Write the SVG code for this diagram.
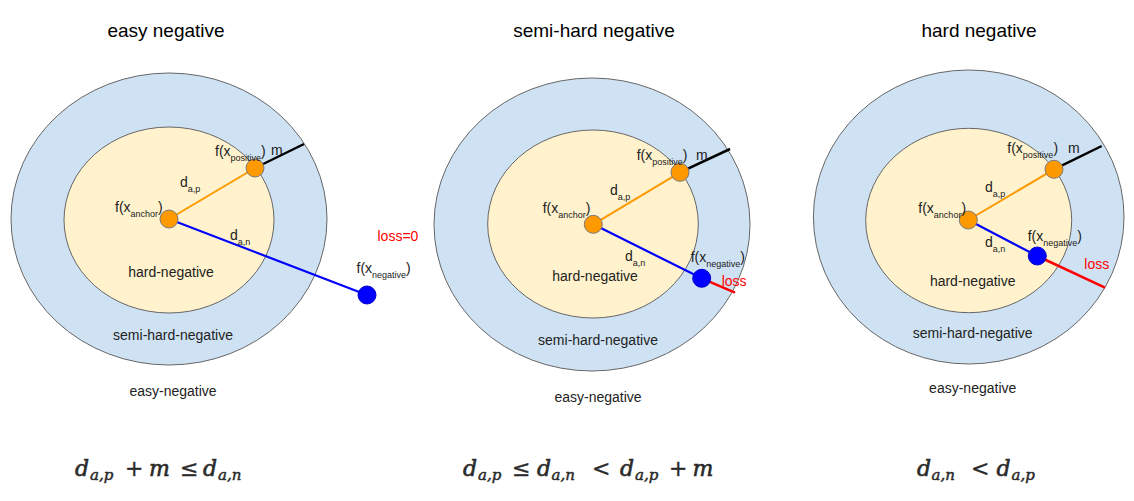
<svg xmlns="http://www.w3.org/2000/svg" width="1134" height="501" viewBox="0 0 1134 501">
<style>
.bg{fill:#ffffff}
.outer{fill:#cfe2f3;stroke:#666666;stroke-width:1}
.inner{fill:#fff2cc;stroke:#666666;stroke-width:1}
.ap{stroke:#ff9900;stroke-width:2;fill:none}
.an{stroke:#0000ff;stroke-width:2.2;fill:none}
.mline{stroke:#000000;stroke-width:2.5;fill:none}
.loss{stroke:#ff0000;stroke-width:2.5;fill:none}
.onode{fill:#ff9900;stroke:#7a7a7a;stroke-width:1}
.bnode{fill:#0000ff;stroke:#0000cc;stroke-width:1}
.title{font-family:"Liberation Sans",Arial,sans-serif;font-size:19px;fill:#000000;text-anchor:middle}
.lbl{font-family:"Liberation Sans",Arial,sans-serif;font-size:14px;fill:#222222}
.reg{font-family:"Liberation Sans",Arial,sans-serif;font-size:14px;fill:#222222;text-anchor:middle}
.red{font-family:"Liberation Sans",Arial,sans-serif;font-size:14px;fill:#ff0000}
.sub{font-size:9px}
.mi{font-family:"DejaVu Serif","Liberation Serif",serif;font-style:italic;font-size:22px;fill:#2a2a2a;stroke:#2a2a2a;stroke-width:0.6}
.ms{font-family:"DejaVu Serif","Liberation Serif",serif;font-style:italic;font-size:15px;fill:#2a2a2a;stroke:#2a2a2a;stroke-width:0.5}
.mo{font-family:"DejaVu Serif","Liberation Serif",serif;font-size:22px;fill:#2a2a2a;stroke:#2a2a2a;stroke-width:0.4}
</style>
<rect class="bg" x="0" y="0" width="1134" height="501"/>

<!-- Panel 1: easy negative -->
<g id="panel-easy">
  <text class="title" x="166" y="37">easy negative</text>
  <ellipse id="easy-outer" class="outer" cx="169" cy="219" rx="158" ry="146"/>
  <ellipse id="easy-inner" class="inner" cx="169" cy="220" rx="105" ry="93"/>
  <text class="reg" x="171" y="277">hard-negative</text>
  <text class="reg" x="173" y="340">semi-hard-negative</text>
  <text class="reg" x="173" y="396">easy-negative</text>
</g>
<g id="connectors-easy">
  <line class="mline" x1="255" y1="168" x2="304" y2="144"/>
  <line class="ap" x1="169" y1="219" x2="255" y2="168"/>
  <line class="an" x1="169" y1="219" x2="367" y2="295"/>
</g>
<g id="easy-anchor"><circle class="onode" cx="169" cy="219" r="9"/>
  <text class="lbl" x="115" y="212">f(x<tspan class="sub" dy="5">anchor</tspan><tspan dy="-5">)</tspan></text></g>
<g id="easy-positive"><circle class="onode" cx="255" cy="168" r="9"/>
  <text class="lbl" x="215" y="156">f(x<tspan class="sub" dy="5">positive</tspan><tspan dy="-5">)</tspan></text>
  <text class="lbl" x="271" y="155">m</text></g>
<g id="easy-negative-node"><circle class="bnode" cx="367" cy="295" r="9"/>
  <text class="lbl" x="356.5" y="273">f(x<tspan class="sub" dy="5">negative</tspan><tspan dy="-5">)</tspan></text>
  <text class="red" x="377.5" y="241">loss=0</text></g>
<g id="easy-dist">
  <text class="lbl" x="180" y="187">d<tspan class="sub" dy="5">a,p</tspan></text>
  <text class="lbl" x="230" y="240">d<tspan class="sub" dy="5">a,n</tspan></text>
</g>

<!-- Panel 2: semi-hard negative -->
<g id="panel-semi">
  <text class="title" x="594" y="37">semi-hard negative</text>
  <ellipse id="semi-outer" class="outer" cx="592" cy="224.5" rx="158" ry="146.5"/>
  <ellipse id="semi-inner" class="inner" cx="593" cy="224" rx="105.3" ry="94"/>
  <text class="reg" x="595" y="281">hard-negative</text>
  <text class="reg" x="598" y="345">semi-hard-negative</text>
  <text class="reg" x="598" y="402">easy-negative</text>
</g>
<g id="connectors-semi">
  <line class="mline" x1="680" y1="172.3" x2="730" y2="149"/>
  <line class="ap" x1="593.3" y1="224.3" x2="680" y2="172.3"/>
  <line class="an" x1="593.3" y1="224.3" x2="701.7" y2="278.3"/>
  <line class="loss" x1="701.7" y1="278.3" x2="735" y2="292.7"/>
</g>
<g id="semi-anchor"><circle class="onode" cx="593.3" cy="224.3" r="9"/>
  <text class="lbl" x="542.7" y="213">f(x<tspan class="sub" dy="5">anchor</tspan><tspan dy="-5">)</tspan></text></g>
<g id="semi-positive"><circle class="onode" cx="680" cy="172.3" r="9"/>
  <text class="lbl" x="636.7" y="160">f(x<tspan class="sub" dy="5">positive</tspan><tspan dy="-5">)</tspan></text>
  <text class="lbl" x="696" y="160">m</text></g>
<g id="semi-negative"><circle class="bnode" cx="701.7" cy="278.3" r="9"/>
  <text class="lbl" x="690.7" y="262">f(x<tspan class="sub" dy="5">negative</tspan><tspan dy="-5">)</tspan></text>
  <text class="red" x="721.7" y="286">loss</text></g>
<g id="semi-dist">
  <text class="lbl" x="610" y="195">d<tspan class="sub" dy="5">a,p</tspan></text>
  <text class="lbl" x="625" y="261">d<tspan class="sub" dy="5">a,n</tspan></text>
</g>

<!-- Panel 3: hard negative -->
<g id="panel-hard">
  <text class="title" x="979" y="37">hard negative</text>
  <ellipse id="hard-outer" class="outer" cx="968.7" cy="217" rx="155.3" ry="147"/>
  <ellipse id="hard-inner" class="inner" cx="968.7" cy="220.5" rx="103" ry="92.2"/>
  <text class="reg" x="972.7" y="286">hard-negative</text>
  <text class="reg" x="972.7" y="338">semi-hard-negative</text>
  <text class="reg" x="972.7" y="393">easy-negative</text>
</g>
<g id="connectors-hard">
  <line class="mline" x1="1054" y1="169.3" x2="1101.7" y2="146"/>
  <line class="ap" x1="968.3" y1="220" x2="1054" y2="169.3"/>
  <line class="an" x1="968.3" y1="220" x2="1037.3" y2="256"/>
  <line class="loss" x1="1037.3" y1="256" x2="1105" y2="287.7"/>
</g>
<g id="hard-anchor"><circle class="onode" cx="968.3" cy="220" r="9"/>
  <text class="lbl" x="918.3" y="213">f(x<tspan class="sub" dy="5">anchor</tspan><tspan dy="-5">)</tspan></text></g>
<g id="hard-positive"><circle class="onode" cx="1054" cy="169.3" r="9"/>
  <text class="lbl" x="1007.3" y="153">f(x<tspan class="sub" dy="5">positive</tspan><tspan dy="-5">)</tspan></text>
  <text class="lbl" x="1068" y="153">m</text></g>
<g id="hard-negative-node"><circle class="bnode" cx="1037.3" cy="256" r="9"/>
  <text class="lbl" x="1027.7" y="240.5">f(x<tspan class="sub" dy="5">negative</tspan><tspan dy="-5">)</tspan></text>
  <text class="red" x="1084.3" y="268.5">loss</text></g>
<g id="hard-dist">
  <text class="lbl" x="985" y="192">d<tspan class="sub" dy="5">a,p</tspan></text>
  <text class="lbl" x="985" y="247">d<tspan class="sub" dy="5">a,n</tspan></text>
</g>

<!-- Formulas -->
<g id="formula-easy">
  <text class="mi" x="75" y="476">d</text>
  <text class="ms" x="90" y="480">a,p</text>
  <text class="mo" x="125" y="476">+</text>
  <text class="mi" x="149" y="476">m</text>
  <text class="mo" x="180" y="476">≤</text>
  <text class="mi" x="203" y="476">d</text>
  <text class="ms" x="218" y="480">a,n</text>
</g>
<g id="formula-semi">
  <text class="mi" x="463" y="476">d</text>
  <text class="ms" x="478" y="480">a,p</text>
  <text class="mo" x="512" y="476">≤</text>
  <text class="mi" x="537" y="476">d</text>
  <text class="ms" x="551.5" y="480">a,n</text>
  <text class="mo" x="592" y="476">&lt;</text>
  <text class="mi" x="620" y="476">d</text>
  <text class="ms" x="635" y="480">a,p</text>
  <text class="mo" x="669" y="476">+</text>
  <text class="mi" x="692.5" y="476">m</text>
</g>
<g id="formula-hard">
  <text class="mi" x="917" y="476">d</text>
  <text class="ms" x="931.5" y="480">a,n</text>
  <text class="mo" x="971" y="476">&lt;</text>
  <text class="mi" x="996.5" y="476">d</text>
  <text class="ms" x="1011.5" y="480">a,p</text>
</g>
</svg>
